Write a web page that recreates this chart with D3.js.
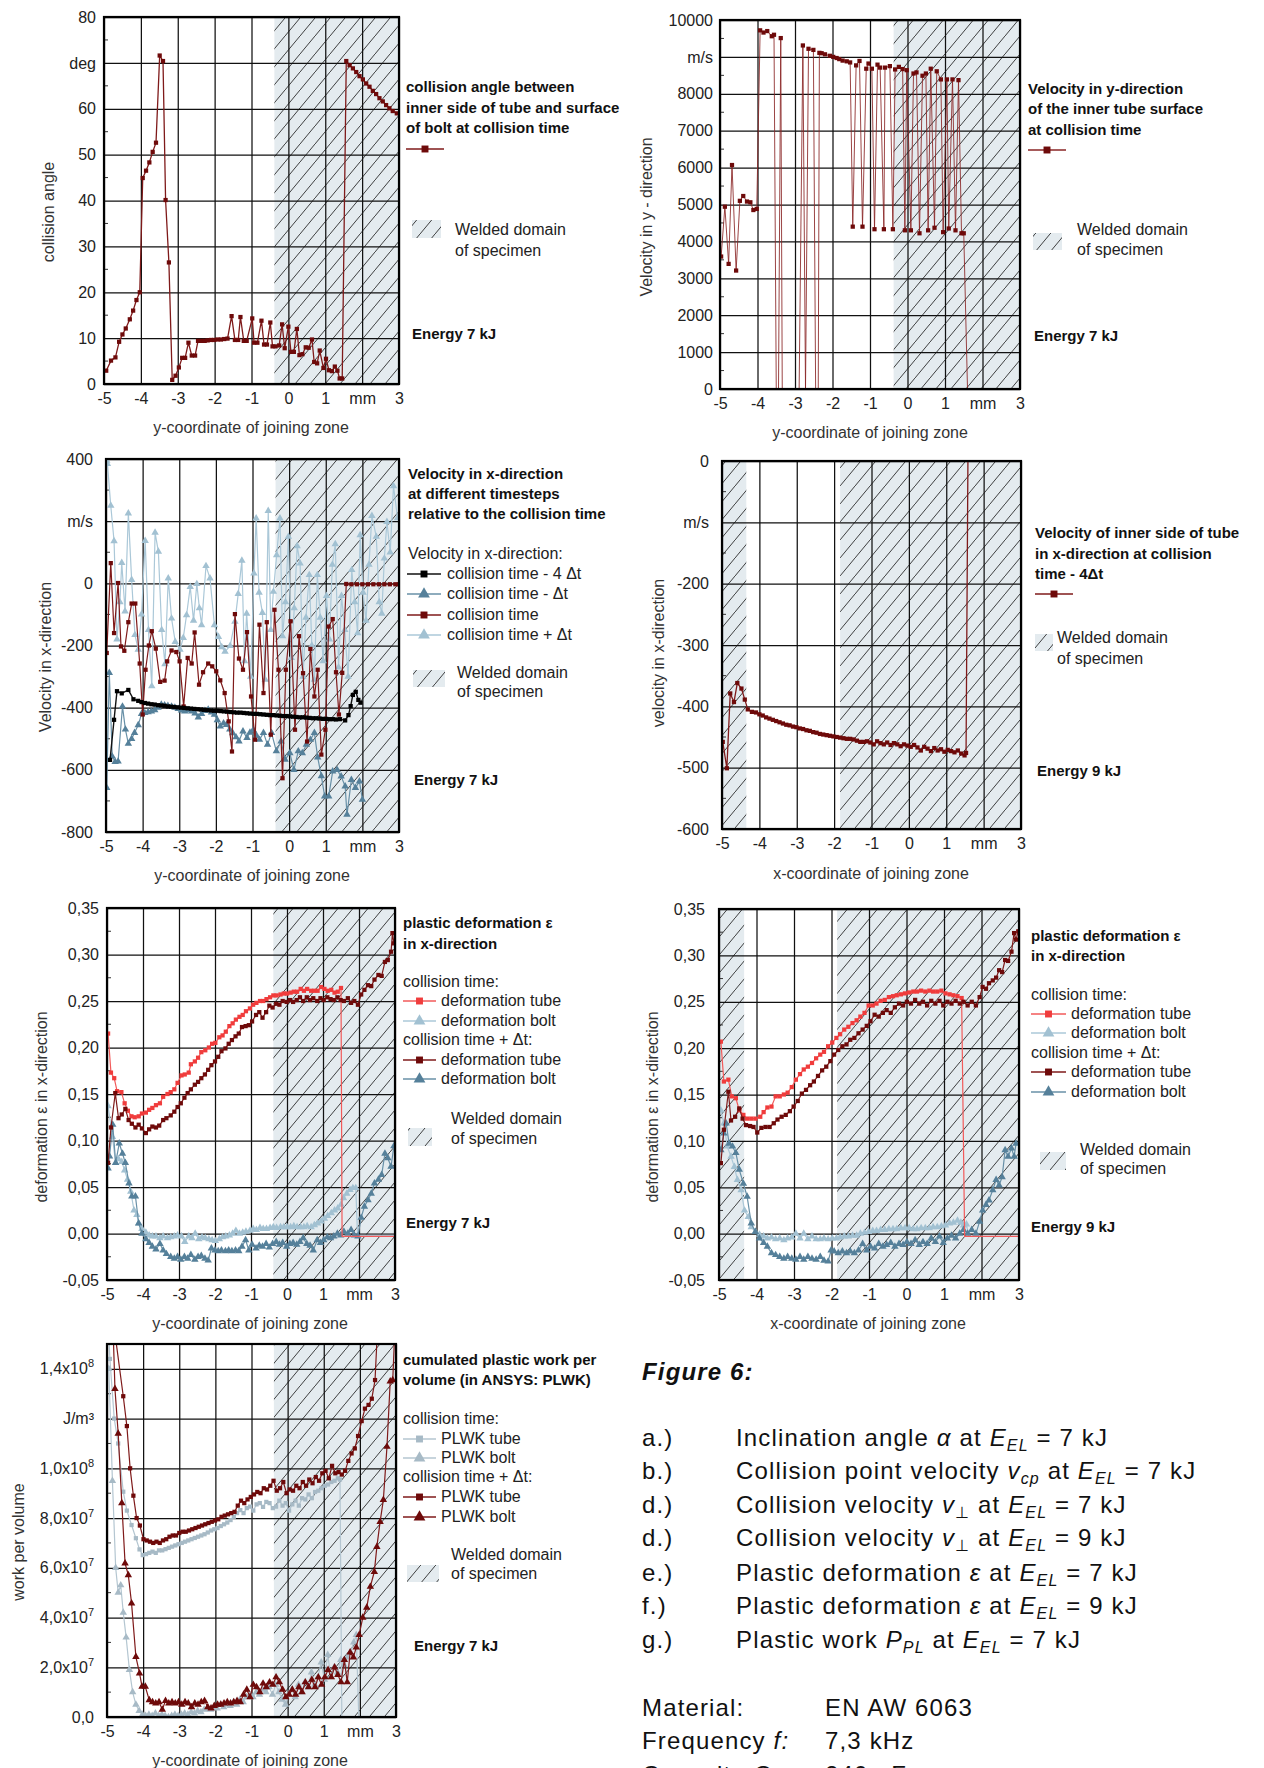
<!DOCTYPE html>
<html><head><meta charset="utf-8">
<script src="https://cdn.jsdelivr.net/npm/d3@7"></script>
<style>body{margin:0;background:#fff}</style>
</head><body>
<script>
// ---------------- DATA ----------------
const xTickValues = [-5,-4,-3,-2,-1,0,1,2,3];

// a) collision angle (deg)
const angleData = [[-4.94,2.9],[-4.81,5.1],[-4.69,5.8],[-4.59,9.2],[-4.50,10.8],[-4.41,12.1],[-4.30,14.1],[-4.21,16.0],[-4.12,18.3],[-4.03,20.0],[-3.95,44.9],[-3.86,46.5],[-3.77,48.3],[-3.68,50.6],[-3.59,52.6],[-3.49,71.6],[-3.40,70.4],[-3.33,40.1],[-3.24,26.5],[-3.15,0.9],[-3.06,1.8],[-2.97,3.6],[-2.88,5.7],[-2.80,5.7],[-2.71,9.0],[-2.62,6.2],[-2.53,6.2],[-2.45,9.4],[-2.36,9.4],[-2.27,9.4],[-2.19,9.5],[-2.10,9.6],[-2.01,9.6],[-1.92,9.7],[-1.83,9.7],[-1.74,9.8],[-1.65,9.9],[-1.54,14.8],[-1.45,9.6],[-1.36,9.6],[-1.30,14.6],[-1.21,9.4],[-1.13,9.4],[-0.98,14.3],[-0.93,9.0],[-0.84,9.0],[-0.73,13.8],[-0.66,8.6],[-0.58,8.6],[-0.49,13.4],[-0.43,8.2],[-0.35,8.2],[-0.25,8.4],[-0.17,13.0],[-0.10,7.8],[0.00,12.5],[0.07,7.0],[0.15,7.0],[0.23,12.0],[0.30,6.3],[0.38,6.5],[0.47,8.0],[0.55,7.9],[0.64,9.7],[0.70,4.8],[0.78,4.5],[0.85,7.3],[0.95,3.5],[1.02,5.5],[1.10,3.0],[1.18,2.8],[1.26,3.8],[1.33,2.9],[1.39,1.2],[1.46,1.2],[1.57,70.4],[1.66,69.5],[1.75,68.8],[1.84,68.0],[1.93,67.1],[2.02,66.4],[2.11,65.5],[2.20,64.8],[2.29,63.9],[2.38,63.2],[2.47,62.3],[2.56,61.6],[2.65,60.8],[2.74,60.1],[2.83,59.5],[2.94,59.0]];

// b) velocity in y-direction (m/s)
const vyData = [[-4.97,3590],[-4.87,4940],[-4.77,3390],[-4.68,6070],[-4.57,3210],[-4.47,5100],[-4.38,5230],[-4.28,5080],[-4.19,5060],[-4.11,4850],[-4.02,4880],[-3.93,9720],[-3.84,9660],[-3.74,9700],[-3.62,9560],[-3.56,9600],[-3.50,0],[-3.44,0],[-3.38,9510],[-3.34,0],[-2.89,0],[-2.79,9310],[-2.72,0],[-2.64,9220],[-2.51,9190],[-2.45,0],[-2.38,0],[-2.35,9110],[-2.29,9100],[-2.20,9070],[-2.07,9030],[-1.98,9000],[-1.89,8970],[-1.82,8940],[-1.73,8900],[-1.62,8880],[-1.53,8850],[-1.46,4400],[-1.37,8770],[-1.28,8890],[-1.20,4400],[-1.10,8680],[-1.04,8820],[-0.95,8680],[-0.88,4330],[-0.80,8790],[-0.73,8710],[-0.63,4330],[-0.60,8710],[-0.47,8750],[-0.39,4330],[-0.33,8660],[-0.23,8730],[-0.13,8670],[-0.07,4300],[-0.02,8640],[0.09,4300],[0.16,8550],[0.24,8580],[0.32,4220],[0.40,8490],[0.49,8550],[0.55,4300],[0.62,8680],[0.72,4370],[0.78,8610],[0.89,8390],[0.95,4250],[1.05,8390],[1.10,4350],[1.20,8390],[1.28,4300],[1.36,8370],[1.44,4220],[1.50,4220],[1.60,0],[3.00,0]];

// c) velocity in x-direction, 7 kJ (m/s)
const vxMinus4dt = [[-4.89,-568],[-4.78,-439],[-4.70,-347],[-4.57,-354],[-4.39,-343],[-4.25,-373],[-4.12,-378],[-4.03,-382],[-3.94,-385],[-3.85,-387],[-3.76,-389],[-3.67,-390],[-3.58,-392],[-3.49,-393],[-3.40,-394],[-3.31,-396],[-3.22,-397],[-3.13,-398],[-3.04,-399],[-2.95,-400],[-2.86,-401],[-2.77,-402],[-2.68,-403],[-2.59,-404],[-2.50,-405],[-2.41,-406],[-2.32,-407],[-2.23,-408],[-2.14,-409],[-2.05,-410],[-1.96,-410],[-1.87,-411],[-1.78,-412],[-1.69,-413],[-1.60,-414],[-1.51,-415],[-1.42,-416],[-1.33,-416],[-1.24,-417],[-1.15,-418],[-1.06,-419],[-0.97,-420],[-0.88,-420],[-0.79,-421],[-0.70,-422],[-0.61,-423],[-0.52,-424],[-0.43,-424],[-0.34,-425],[-0.25,-426],[-0.16,-427],[-0.07,-427],[0.02,-428],[0.11,-429],[0.20,-430],[0.29,-431],[0.38,-431],[0.47,-432],[0.56,-433],[0.65,-434],[0.74,-434],[0.83,-435],[0.92,-436],[1.01,-436],[1.10,-437],[1.19,-437],[1.28,-438],[1.39,-437],[1.53,-441],[1.62,-424],[1.68,-395],[1.74,-359],[1.82,-349],[1.89,-375],[1.95,-384]];
const vxMinusDt = [[-4.98,-658],[-4.91,-288],[-4.83,-557],[-4.75,-574],[-4.67,-573],[-4.55,-396],[-4.47,-470],[-4.39,-516],[-4.30,-500],[-4.22,-481],[-4.12,-456],[-4.03,-420],[-3.94,-417],[-3.85,-414],[-3.76,-412],[-3.67,-408],[-3.58,-400],[-3.49,-390],[-3.40,-392],[-3.31,-394],[-3.21,-396],[-3.12,-400],[-3.03,-404],[-2.94,-409],[-2.85,-412],[-2.76,-408],[-2.66,-412],[-2.57,-418],[-2.48,-431],[-2.39,-420],[-2.30,-410],[-2.21,-406],[-2.12,-415],[-2.04,-422],[-1.96,-440],[-1.88,-460],[-1.79,-450],[-1.71,-455],[-1.62,-470],[-1.54,-482],[-1.45,-495],[-1.37,-508],[-1.26,-476],[-1.15,-497],[-1.07,-480],[-0.98,-471],[-0.89,-490],[-0.81,-503],[-0.70,-481],[-0.59,-519],[-0.48,-481],[-0.35,-540],[-0.22,-508],[-0.11,-567],[0.02,-546],[0.13,-600],[0.25,-540],[0.36,-546],[0.47,-519],[0.58,-503],[0.69,-481],[0.78,-560],[0.88,-620],[0.97,-685],[1.08,-685],[1.19,-605],[1.31,-600],[1.42,-621],[1.53,-653],[1.58,-744],[1.70,-632],[1.81,-658],[1.92,-637],[2.00,-696]];
const vxColl = [[-4.98,-224],[-4.87,65],[-4.78,-160],[-4.67,1],[-4.59,-203],[-4.50,-217],[-4.39,-125],[-4.30,-65],[-4.20,-65],[-4.08,-258],[-4.00,-422],[-3.92,-278],[-3.83,-200],[-3.75,-154],[-3.64,-210],[-3.52,-317],[-3.40,-313],[-3.33,-251],[-3.21,-216],[-3.08,-221],[-2.99,-251],[-2.88,-396],[-2.77,-240],[-2.66,-258],[-2.58,-158],[-2.46,-326],[-2.35,-286],[-2.21,-258],[-2.10,-267],[-1.99,-283],[-1.88,-312],[-1.76,-353],[-1.65,-444],[-1.56,-541],[-1.48,-99],[-1.37,-242],[-1.26,-278],[-1.15,-157],[-1.04,-364],[-0.93,-503],[-0.81,-133],[-0.70,-353],[-0.61,-125],[-0.50,-487],[-0.40,-85],[-0.29,-278],[-0.18,-627],[-0.09,-278],[0.04,-122],[0.16,-471],[0.27,-170],[0.38,-289],[0.49,-509],[0.58,-211],[0.69,-364],[0.78,-278],[0.88,-551],[0.99,-471],[1.08,-139],[1.19,-115],[1.28,-286],[1.36,-422],[1.45,-288],[1.56,-2],[1.70,-3],[1.85,-3],[2.00,-3],[2.15,-3],[2.30,-3],[2.45,-3],[2.60,-3],[2.75,-3],[2.90,-3],[3.00,-3]];
const vxPlusDt = [[-4.98,395],[-4.96,384],[-4.87,250],[-4.78,136],[-4.70,-180],[-4.62,-60],[-4.57,66],[-4.48,-90],[-4.39,225],[-4.30,11],[-4.21,-166],[-4.12,-213],[-4.03,-100],[-3.93,137],[-3.84,-150],[-3.75,-331],[-3.66,163],[-3.57,102],[-3.48,-150],[-3.39,-260],[-3.30,16],[-3.21,-113],[-3.11,-188],[-2.98,-213],[-2.89,-175],[-2.80,-102],[-2.70,-11],[-2.61,-120],[-2.52,-2],[-2.45,-80],[-2.39,-134],[-2.27,56],[-2.16,16],[-2.04,-134],[-1.93,-172],[-1.84,-205],[-1.75,-220],[-1.61,-201],[-1.48,-123],[-1.39,-34],[-1.29,73],[-1.22,-250],[-1.16,-97],[-1.05,-300],[-0.96,32],[-0.90,209],[-0.82,-30],[-0.73,-95],[-0.65,-310],[-0.57,233],[-0.50,-150],[-0.43,-27],[-0.34,91],[-0.25,209],[-0.18,-170],[-0.10,-60],[-0.02,150],[0.06,-240],[0.14,-80],[0.22,120],[0.30,64],[0.38,-300],[0.46,-110],[0.55,27],[0.62,-200],[0.69,-310],[0.77,27],[0.85,-110],[0.93,-250],[1.02,-40],[1.10,-180],[1.18,60],[1.26,126],[1.35,-270],[1.43,-40],[1.52,-150],[1.61,-300],[1.71,43],[1.79,-60],[1.87,-160],[1.94,155],[2.02,-30],[2.10,-120],[2.18,60],[2.26,217],[2.38,150],[2.46,-60],[2.53,-97],[2.60,80],[2.67,198],[2.76,100],[2.85,313],[2.96,210]];

// d) velocity in x-direction, 9 kJ (m/s)
const vx9Data = [[-4.98,-458],[-4.87,-501],[-4.78,-379],[-4.68,-393],[-4.59,-362],[-4.48,-371],[-4.39,-389],[-4.31,-405],[-4.20,-409],[-4.09,-410],[-4.00,-413],[-3.91,-415],[-3.82,-418],[-3.73,-420],[-3.64,-422],[-3.55,-424],[-3.46,-426],[-3.37,-428],[-3.28,-430],[-3.19,-431],[-3.10,-433],[-3.01,-434],[-2.92,-436],[-2.83,-437],[-2.74,-439],[-2.65,-440],[-2.56,-442],[-2.47,-443],[-2.38,-445],[-2.29,-446],[-2.20,-447],[-2.11,-448],[-2.02,-449],[-1.93,-450],[-1.84,-451],[-1.75,-452],[-1.66,-453],[-1.57,-453],[-1.48,-454],[-1.39,-456],[-1.30,-458],[-1.21,-458],[-1.12,-457],[-1.03,-459],[-0.94,-462],[-0.85,-457],[-0.76,-460],[-0.67,-462],[-0.58,-459],[-0.49,-463],[-0.40,-460],[-0.31,-462],[-0.22,-465],[-0.13,-462],[-0.04,-464],[0.05,-466],[0.14,-463],[0.23,-467],[0.32,-472],[0.41,-466],[0.50,-469],[0.59,-473],[0.68,-468],[0.77,-472],[0.86,-470],[0.95,-474],[1.04,-471],[1.13,-473],[1.22,-475],[1.31,-472],[1.40,-477],[1.49,-480],[1.53,-476],[1.58,0],[3.00,0]];

// e) plastic deformation, 7 kJ
const e7TubeCT = [[-4.97,0.215],[-4.89,0.173],[-4.80,0.167],[-4.72,0.153],[-4.60,0.152],[-4.51,0.140],[-4.42,0.132],[-4.32,0.126],[-4.23,0.125],[-4.12,0.126],[-4.03,0.129],[-3.92,0.130],[-3.83,0.133],[-3.74,0.135],[-3.64,0.138],[-3.53,0.140],[-3.44,0.147],[-3.32,0.150],[-3.23,0.152],[-3.13,0.155],[-3.04,0.162],[-2.93,0.170],[-2.84,0.171],[-2.73,0.173],[-2.67,0.182],[-2.56,0.185],[-2.47,0.189],[-2.38,0.195],[-2.27,0.197],[-2.17,0.200],[-2.08,0.204],[-1.99,0.205],[-1.88,0.211],[-1.79,0.213],[-1.70,0.217],[-1.60,0.223],[-1.51,0.226],[-1.42,0.230],[-1.32,0.233],[-1.23,0.235],[-1.14,0.239],[-1.03,0.242],[-0.94,0.246],[-0.85,0.248],[-0.75,0.250],[-0.66,0.250],[-0.57,0.252],[-0.47,0.254],[-0.38,0.256],[-0.29,0.256],[-0.18,0.257],[-0.09,0.258],[0.00,0.258],[0.10,0.259],[0.19,0.260],[0.28,0.260],[0.38,0.263],[0.47,0.261],[0.56,0.263],[0.67,0.261],[0.76,0.261],[0.85,0.261],[0.95,0.265],[1.04,0.263],[1.13,0.261],[1.23,0.262],[1.32,0.259],[1.41,0.260],[1.50,0.264],[1.53,-0.003],[3.00,-0.003]];
const e7BoltCT = [[-4.97,0.137],[-4.85,0.104],[-4.76,0.076],[-4.68,0.080],[-4.59,0.077],[-4.51,0.068],[-4.43,0.058],[-4.34,0.045],[-4.25,0.025],[-4.17,0.020],[-4.12,0.011],[-4.03,0.005],[-3.92,0.001],[-3.83,-0.002],[-3.74,-0.003],[-3.64,-0.003],[-3.53,-0.005],[-3.44,-0.003],[-3.32,-0.005],[-3.23,-0.004],[-3.13,-0.003],[-3.04,-0.002],[-2.93,-0.003],[-2.84,-0.009],[-2.73,-0.003],[-2.64,-0.005],[-2.55,0.000],[-2.45,-0.006],[-2.36,-0.004],[-2.27,-0.005],[-2.17,-0.006],[-2.08,-0.007],[-1.99,-0.008],[-1.88,-0.006],[-1.79,-0.004],[-1.70,-0.003],[-1.60,-0.002],[-1.51,0.000],[-1.42,0.003],[-1.32,0.000],[-1.23,0.001],[-1.14,0.002],[-1.03,0.003],[-0.94,0.005],[-0.85,0.004],[-0.75,0.006],[-0.66,0.005],[-0.57,0.005],[-0.47,0.006],[-0.38,0.007],[-0.29,0.006],[-0.18,0.007],[-0.09,0.007],[0.00,0.007],[0.10,0.007],[0.19,0.008],[0.28,0.007],[0.38,0.007],[0.47,0.007],[0.56,0.008],[0.67,0.007],[0.76,0.009],[0.85,0.011],[0.95,0.013],[1.04,0.016],[1.13,0.019],[1.23,0.022],[1.32,0.025],[1.41,0.027],[1.50,0.031],[1.57,0.038],[1.66,0.043],[1.75,0.047],[1.83,0.049],[1.91,0.049],[1.96,-0.002],[3.00,-0.002]];
const e7TubeDt = [[-4.97,0.076],[-4.89,0.114],[-4.77,0.151],[-4.68,0.124],[-4.59,0.128],[-4.49,0.134],[-4.40,0.122],[-4.31,0.118],[-4.21,0.114],[-4.12,0.117],[-4.03,0.113],[-3.92,0.108],[-3.83,0.112],[-3.74,0.115],[-3.64,0.114],[-3.55,0.116],[-3.44,0.122],[-3.35,0.124],[-3.23,0.127],[-3.13,0.131],[-3.04,0.136],[-2.95,0.140],[-2.85,0.146],[-2.76,0.151],[-2.67,0.155],[-2.56,0.160],[-2.47,0.163],[-2.38,0.167],[-2.28,0.171],[-2.19,0.176],[-2.10,0.181],[-2.00,0.185],[-1.91,0.190],[-1.82,0.196],[-1.71,0.199],[-1.62,0.204],[-1.53,0.208],[-1.43,0.212],[-1.34,0.215],[-1.25,0.222],[-1.15,0.223],[-1.06,0.224],[-0.97,0.228],[-0.86,0.235],[-0.77,0.238],[-0.68,0.232],[-0.58,0.238],[-0.49,0.245],[-0.40,0.243],[-0.30,0.247],[-0.21,0.246],[-0.12,0.250],[-0.01,0.249],[0.08,0.251],[0.17,0.249],[0.27,0.251],[0.36,0.254],[0.45,0.250],[0.55,0.254],[0.64,0.251],[0.73,0.253],[0.84,0.250],[0.93,0.253],[1.02,0.251],[1.12,0.254],[1.21,0.252],[1.30,0.251],[1.40,0.254],[1.49,0.251],[1.58,0.250],[1.69,0.253],[1.78,0.248],[1.87,0.250],[1.97,0.246],[2.06,0.257],[2.15,0.262],[2.25,0.267],[2.34,0.266],[2.43,0.273],[2.54,0.278],[2.63,0.277],[2.72,0.292],[2.80,0.294],[2.89,0.303],[2.93,0.323],[2.97,0.312]];
const e7BoltDt = [[-4.97,0.070],[-4.93,0.083],[-4.84,0.117],[-4.76,0.076],[-4.66,0.097],[-4.57,0.086],[-4.49,0.076],[-4.39,0.054],[-4.31,0.040],[-4.21,0.040],[-4.12,0.011],[-4.03,0.000],[-3.92,-0.006],[-3.83,-0.010],[-3.74,-0.014],[-3.64,-0.017],[-3.53,-0.011],[-3.44,-0.018],[-3.35,-0.022],[-3.23,-0.025],[-3.13,-0.027],[-3.04,-0.025],[-2.95,-0.028],[-2.85,-0.025],[-2.76,-0.027],[-2.67,-0.023],[-2.56,-0.028],[-2.47,-0.025],[-2.38,-0.024],[-2.28,-0.027],[-2.19,-0.029],[-2.10,-0.016],[-2.00,-0.018],[-1.91,-0.019],[-1.82,-0.018],[-1.71,-0.019],[-1.62,-0.018],[-1.53,-0.019],[-1.43,-0.018],[-1.34,-0.019],[-1.25,-0.014],[-1.15,-0.007],[-1.06,-0.018],[-0.97,-0.012],[-0.86,-0.016],[-0.77,-0.013],[-0.68,-0.014],[-0.58,-0.011],[-0.49,-0.015],[-0.40,-0.011],[-0.30,-0.009],[-0.21,-0.012],[-0.12,-0.010],[-0.01,-0.014],[0.08,-0.011],[0.17,-0.010],[0.27,-0.012],[0.36,-0.009],[0.45,-0.005],[0.55,-0.011],[0.64,-0.013],[0.73,-0.018],[0.84,-0.007],[0.93,-0.010],[1.02,-0.007],[1.12,-0.004],[1.21,-0.005],[1.30,-0.003],[1.40,0.000],[1.49,-0.002],[1.58,0.002],[1.69,0.000],[1.78,0.004],[1.87,-0.002],[1.97,-0.003],[2.06,0.017],[2.15,0.029],[2.25,0.036],[2.34,0.043],[2.43,0.054],[2.54,0.058],[2.63,0.063],[2.72,0.086],[2.80,0.081],[2.89,0.072],[2.97,0.094]];

// f) plastic deformation, 9 kJ
const e9TubeCT = [[-4.95,0.207],[-4.87,0.164],[-4.75,0.166],[-4.66,0.148],[-4.55,0.146],[-4.46,0.133],[-4.35,0.128],[-4.25,0.124],[-4.14,0.124],[-4.03,0.124],[-3.90,0.126],[-3.81,0.131],[-3.71,0.136],[-3.60,0.137],[-3.49,0.148],[-3.38,0.148],[-3.27,0.150],[-3.17,0.152],[-3.06,0.158],[-2.95,0.166],[-2.84,0.172],[-2.74,0.177],[-2.63,0.180],[-2.52,0.184],[-2.41,0.189],[-2.30,0.193],[-2.20,0.196],[-2.09,0.202],[-1.98,0.206],[-1.87,0.211],[-1.77,0.215],[-1.66,0.220],[-1.55,0.223],[-1.44,0.227],[-1.33,0.230],[-1.23,0.234],[-1.12,0.238],[-1.01,0.246],[-0.90,0.246],[-0.80,0.248],[-0.69,0.251],[-0.58,0.252],[-0.47,0.255],[-0.36,0.256],[-0.26,0.257],[-0.15,0.258],[-0.04,0.259],[0.07,0.260],[0.18,0.261],[0.28,0.261],[0.39,0.262],[0.50,0.261],[0.61,0.262],[0.71,0.261],[0.82,0.261],[0.93,0.262],[1.04,0.259],[1.15,0.258],[1.25,0.257],[1.36,0.256],[1.47,0.254],[1.55,-0.003],[3.00,-0.003]];
const e9BoltCT = [[-4.95,0.133],[-4.87,0.119],[-4.78,0.094],[-4.68,0.083],[-4.59,0.072],[-4.51,0.058],[-4.41,0.047],[-4.32,0.025],[-4.22,0.018],[-4.14,0.007],[-4.03,0.002],[-3.92,-0.001],[-3.81,-0.003],[-3.71,-0.005],[-3.60,-0.004],[-3.49,-0.006],[-3.38,-0.005],[-3.27,-0.007],[-3.17,-0.005],[-3.06,-0.004],[-2.95,0.000],[-2.84,-0.005],[-2.74,0.000],[-2.63,-0.006],[-2.52,-0.003],[-2.41,-0.006],[-2.30,-0.006],[-2.20,-0.005],[-2.09,-0.006],[-1.98,-0.005],[-1.87,-0.005],[-1.77,-0.004],[-1.66,-0.003],[-1.55,-0.003],[-1.44,-0.002],[-1.33,-0.002],[-1.23,0.000],[-1.12,0.001],[-1.01,0.002],[-0.90,0.003],[-0.80,0.003],[-0.69,0.004],[-0.58,0.004],[-0.47,0.005],[-0.36,0.005],[-0.26,0.005],[-0.15,0.006],[-0.04,0.006],[0.07,0.006],[0.18,0.005],[0.28,0.005],[0.39,0.006],[0.50,0.006],[0.61,0.006],[0.71,0.007],[0.82,0.007],[0.93,0.008],[1.04,0.009],[1.15,0.011],[1.25,0.012],[1.36,0.014],[1.45,0.012],[1.52,0.009],[1.60,0.010],[1.66,-0.003],[3.00,-0.003]];
const e9TubeDt = [[-4.95,0.076],[-4.87,0.112],[-4.75,0.153],[-4.68,0.122],[-4.57,0.126],[-4.46,0.135],[-4.37,0.124],[-4.28,0.117],[-4.17,0.116],[-4.08,0.115],[-3.98,0.109],[-3.87,0.114],[-3.76,0.115],[-3.65,0.115],[-3.54,0.119],[-3.44,0.123],[-3.33,0.126],[-3.22,0.128],[-3.11,0.132],[-3.01,0.137],[-2.90,0.143],[-2.79,0.151],[-2.68,0.155],[-2.57,0.160],[-2.47,0.164],[-2.36,0.170],[-2.25,0.176],[-2.14,0.180],[-2.03,0.186],[-1.93,0.193],[-1.82,0.198],[-1.71,0.202],[-1.60,0.204],[-1.50,0.209],[-1.39,0.211],[-1.28,0.216],[-1.17,0.220],[-1.06,0.224],[-0.96,0.229],[-0.85,0.236],[-0.74,0.234],[-0.63,0.238],[-0.53,0.241],[-0.42,0.238],[-0.31,0.244],[-0.20,0.248],[-0.09,0.246],[0.01,0.250],[0.12,0.248],[0.23,0.252],[0.34,0.248],[0.44,0.250],[0.55,0.246],[0.66,0.251],[0.77,0.248],[0.88,0.251],[0.98,0.246],[1.09,0.250],[1.20,0.248],[1.31,0.251],[1.42,0.248],[1.52,0.250],[1.63,0.246],[1.74,0.250],[1.85,0.246],[1.95,0.255],[2.03,0.266],[2.12,0.264],[2.20,0.270],[2.30,0.273],[2.39,0.276],[2.47,0.284],[2.55,0.282],[2.63,0.295],[2.71,0.294],[2.80,0.304],[2.87,0.324],[2.92,0.317],[2.98,0.326]];
const e9BoltDt = [[-4.95,0.090],[-4.87,0.108],[-4.81,0.119],[-4.73,0.097],[-4.64,0.094],[-4.55,0.087],[-4.46,0.069],[-4.35,0.054],[-4.25,0.040],[-4.14,0.011],[-4.03,0.002],[-3.92,-0.005],[-3.81,-0.010],[-3.71,-0.014],[-3.60,-0.021],[-3.49,-0.023],[-3.38,-0.025],[-3.27,-0.027],[-3.17,-0.025],[-3.06,-0.027],[-2.95,-0.028],[-2.84,-0.025],[-2.74,-0.028],[-2.63,-0.025],[-2.52,-0.027],[-2.41,-0.028],[-2.30,-0.025],[-2.20,-0.029],[-2.09,-0.030],[-2.01,-0.018],[-1.93,-0.019],[-1.82,-0.021],[-1.71,-0.019],[-1.60,-0.021],[-1.50,-0.019],[-1.39,-0.021],[-1.28,-0.018],[-1.17,-0.011],[-1.06,-0.018],[-0.96,-0.014],[-0.85,-0.016],[-0.74,-0.011],[-0.63,-0.014],[-0.53,-0.012],[-0.42,-0.010],[-0.31,-0.014],[-0.20,-0.011],[-0.09,-0.012],[0.01,-0.009],[0.12,-0.011],[0.23,-0.007],[0.34,-0.012],[0.44,-0.009],[0.55,-0.011],[0.66,-0.005],[0.77,-0.009],[0.88,-0.003],[0.98,-0.010],[1.09,-0.005],[1.20,-0.002],[1.31,-0.005],[1.42,0.000],[1.52,0.004],[1.63,0.000],[1.74,0.004],[1.85,0.000],[1.95,0.013],[2.03,0.025],[2.12,0.031],[2.20,0.036],[2.30,0.047],[2.39,0.058],[2.47,0.052],[2.55,0.061],[2.63,0.090],[2.71,0.083],[2.80,0.092],[2.87,0.083],[2.92,0.097]];

// g) plastic work per volume (units of 10^7 J/m³)
const wTubeCT = [[-4.97,16.0],[-4.92,14.4],[-4.80,12.0],[-4.69,11.0],[-4.55,9.06],[-4.45,8.3],[-4.32,7.72],[-4.20,7.19],[-4.10,6.74],[-4.01,6.51],[-3.92,6.55],[-3.83,6.6],[-3.74,6.65],[-3.65,6.6],[-3.56,6.7],[-3.47,6.7],[-3.38,6.75],[-3.29,6.8],[-3.20,6.85],[-3.11,6.9],[-3.02,6.95],[-2.93,7.0],[-2.84,7.05],[-2.75,7.1],[-2.66,7.15],[-2.57,7.2],[-2.48,7.25],[-2.39,7.3],[-2.30,7.35],[-2.21,7.42],[-2.12,7.5],[-2.03,7.55],[-1.94,7.6],[-1.85,7.68],[-1.76,7.75],[-1.67,7.82],[-1.58,7.92],[-1.49,8.05],[-1.40,8.2],[-1.31,8.32],[-1.22,8.2],[-1.13,8.4],[-1.04,8.46],[-0.95,8.3],[-0.86,8.55],[-0.77,8.6],[-0.68,8.45],[-0.59,8.65],[-0.50,8.6],[-0.41,8.4],[-0.32,8.46],[-0.23,8.7],[-0.14,8.5],[-0.05,8.6],[0.04,8.3],[0.13,8.55],[0.22,8.7],[0.31,8.5],[0.40,8.8],[0.49,8.75],[0.58,8.95],[0.67,8.8],[0.76,9.05],[0.85,9.1],[0.94,9.2],[1.03,9.3],[1.12,9.35],[1.21,9.45],[1.30,9.5],[1.39,9.6],[1.45,9.55],[1.50,0.0],[3.00,0.0]];
const wBoltCT = [[-4.95,14.0],[-4.85,9.5],[-4.76,6.0],[-4.69,5.0],[-4.62,5.3],[-4.55,4.2],[-4.47,3.2],[-4.38,1.9],[-4.29,1.0],[-4.20,0.5],[-4.11,0.25],[-4.02,0.1],[-3.93,0.05],[-3.84,0.1],[-3.75,0.05],[-3.66,0.15],[-3.57,0.05],[-3.48,0.1],[-3.39,0.05],[-3.30,0.0],[-3.21,0.05],[-3.12,0.1],[-3.03,0.05],[-2.94,0.1],[-2.85,0.15],[-2.76,0.1],[-2.67,0.2],[-2.58,0.15],[-2.49,0.25],[-2.40,0.2],[-2.31,0.3],[-2.22,0.35],[-2.13,0.3],[-2.04,0.4],[-1.95,0.35],[-1.86,0.5],[-1.77,0.4],[-1.68,0.5],[-1.59,0.45],[-1.50,0.6],[-1.41,0.5],[-1.32,0.7],[-1.23,0.6],[-1.14,0.8],[-1.05,0.9],[-0.96,0.8],[-0.87,1.0],[-0.78,0.9],[-0.69,1.1],[-0.60,1.0],[-0.51,1.2],[-0.42,0.9],[-0.33,1.3],[-0.24,1.0],[-0.15,0.7],[-0.06,0.5],[0.03,0.9],[0.12,1.1],[0.21,0.8],[0.30,1.3],[0.39,1.0],[0.48,1.4],[0.57,1.2],[0.66,1.8],[0.75,1.3],[0.84,1.6],[0.93,2.2],[1.02,1.5],[1.11,2.5],[1.20,1.6],[1.29,2.0],[1.38,1.8],[1.47,2.3],[1.56,2.1],[1.65,2.4],[1.74,2.6],[1.83,3.0],[1.90,3.3],[1.97,0.0],[3.00,0.0]];
const wTubeDt = [[-4.85,16.2],[-4.55,12.9],[-4.45,11.7],[-4.36,10.0],[-4.27,8.9],[-4.18,8.0],[-4.09,7.7],[-3.99,7.15],[-3.90,7.1],[-3.81,7.05],[-3.72,7.0],[-3.63,7.05],[-3.54,7.0],[-3.45,7.1],[-3.36,7.15],[-3.27,7.25],[-3.18,7.3],[-3.09,7.3],[-3.00,7.4],[-2.91,7.45],[-2.82,7.45],[-2.73,7.5],[-2.64,7.55],[-2.55,7.6],[-2.46,7.65],[-2.37,7.7],[-2.28,7.75],[-2.19,7.8],[-2.10,7.85],[-2.01,7.9],[-1.92,7.95],[-1.83,8.05],[-1.74,8.1],[-1.65,8.15],[-1.56,8.2],[-1.47,8.25],[-1.38,8.5],[-1.29,8.7],[-1.20,8.6],[-1.11,8.75],[-1.02,8.85],[-0.93,8.95],[-0.84,9.05],[-0.75,9.0],[-0.66,9.2],[-0.57,9.15],[-0.48,9.3],[-0.39,9.5],[-0.30,9.1],[-0.21,9.2],[-0.12,9.45],[-0.03,9.0],[0.06,9.15],[0.15,9.1],[0.24,9.3],[0.33,9.2],[0.42,9.45],[0.51,9.3],[0.60,9.55],[0.69,9.4],[0.78,9.65],[0.87,9.5],[0.96,9.8],[1.05,9.9],[1.14,9.6],[1.23,10.1],[1.32,9.8],[1.41,9.85],[1.50,9.75],[1.59,9.9],[1.68,10.3],[1.77,10.6],[1.86,10.8],[1.95,11.3],[2.05,11.9],[2.14,12.4],[2.24,12.55],[2.33,12.8],[2.42,13.55],[2.50,16.0]];
const wBoltDt = [[-4.84,16.0],[-4.78,13.2],[-4.69,11.4],[-4.59,8.6],[-4.50,6.18],[-4.41,5.71],[-4.32,4.57],[-4.20,2.42],[-4.10,1.76],[-4.03,1.22],[-3.94,1.22],[-3.83,0.68],[-3.74,0.6],[-3.65,0.55],[-3.56,0.6],[-3.47,0.3],[-3.38,0.65],[-3.29,0.55],[-3.20,0.6],[-3.11,0.55],[-3.02,0.6],[-2.93,0.5],[-2.84,0.6],[-2.75,0.55],[-2.66,0.4],[-2.57,0.55],[-2.48,0.5],[-2.39,0.6],[-2.30,0.65],[-2.21,0.4],[-2.12,0.35],[-2.03,0.45],[-1.94,0.5],[-1.85,0.5],[-1.76,0.55],[-1.67,0.6],[-1.58,0.55],[-1.49,0.6],[-1.40,0.65],[-1.31,0.6],[-1.22,0.9],[-1.13,1.1],[-1.04,0.8],[-0.95,1.3],[-0.86,1.2],[-0.77,1.0],[-0.68,1.35],[-0.59,1.2],[-0.50,1.4],[-0.41,1.3],[-0.32,1.6],[-0.23,1.4],[-0.14,1.1],[-0.05,0.8],[0.04,0.9],[0.13,1.1],[0.22,0.9],[0.31,1.2],[0.40,1.0],[0.49,1.4],[0.58,1.2],[0.67,1.5],[0.76,1.2],[0.85,1.6],[0.94,1.3],[1.03,1.6],[1.12,1.9],[1.21,1.6],[1.30,2.0],[1.39,1.7],[1.48,1.4],[1.57,2.3],[1.65,1.4],[1.73,2.6],[1.82,2.4],[1.90,2.8],[1.98,3.3],[2.08,4.0],[2.19,4.4],[2.29,5.24],[2.40,5.84],[2.47,6.84],[2.56,7.85],[2.65,8.73],[2.75,10.87],[2.84,13.5],[2.91,13.55],[2.98,16.0]];

// tick values
const angleTicks = [0,10,20,30,40,50,60,70,80];
const vyTicks = [0,1000,2000,3000,4000,5000,6000,7000,8000,9000,10000];
const vxTicks = [-800,-600,-400,-200,0,200,400];
const vx9Ticks = [-600,-500,-400,-300,-200,-100,0];
const defTicks = [-0.05,0,0.05,0.10,0.15,0.20,0.25,0.30,0.35];
const workTicks = [0,2,4,6,8,10,12,14];

// caption texts
const captionItems = [
  ["a.)", [["Inclination angle "],["α","i"],[" at "],["E","i"],["EL","is"],[" = 7 kJ"]]],
  ["b.)", [["Collision point velocity "],["v","i"],["cp","is"],[" at "],["E","i"],["EL","is"],[" = 7 kJ"]]],
  ["d.)", [["Collision velocity "],["v","i"],["⊥","s"],[" at "],["E","i"],["EL","is"],[" = 7 kJ"]]],
  ["d.)", [["Collision velocity "],["v","i"],["⊥","s"],[" at "],["E","i"],["EL","is"],[" = 9 kJ"]]],
  ["e.)", [["Plastic deformation "],["ε","i"],[" at "],["E","i"],["EL","is"],[" = 7 kJ"]]],
  ["f.)", [["Plastic deformation "],["ε","i"],[" at "],["E","i"],["EL","is"],[" = 9 kJ"]]],
  ["g.)", [["Plastic work "],["P","i"],["PL","is"],[" at "],["E","i"],["EL","is"],[" = 7 kJ"]]]
];
const materialRows = [["Material:","EN AW 6063"],["Frequency ","7,3 kHz","f:"],["Capacity ","240 µF","C:"]];

// ---------------- DRAWING ----------------
const FONT = "'Liberation Sans', Arial, Helvetica, sans-serif";
const MAROON = "#6e0a0a", MAROON_L = "#7f1a1a";
const RED = "#f03c3c", RED_L = "#f25a5a";
const PALE = "#a2c1d2", PALE_L = "#abc8d8";
const STEEL = "#55809a", STEEL_L = "#6890a7";
const GPALE = "#a7bac6", GPALE_L = "#b4c6d1";

const svg = d3.select("body").append("svg").attr("width",1264).attr("height",1768)
  .style("font-family",FONT).style("background","#fff");
const defs = svg.append("defs");
const pat = defs.append("pattern").attr("id","hatch").attr("patternUnits","userSpaceOnUse")
  .attr("width",15).attr("height",18);
pat.append("rect").attr("width",15).attr("height",18).attr("fill","#e4ebef");
pat.append("path").attr("d","M-1,19.2 L16,-1.2").attr("stroke","#2a2a2a").attr("stroke-width",0.9);

let clipId = 0;
function drawPanel(o) {
  const g = svg.append("g");
  const x = d3.scaleLinear().domain([-5,3]).range([o.left,o.right]);
  const y = d3.scaleLinear().domain(o.yDomain).range([o.bottom,o.top]);
  const W = o.right-o.left, H = o.bottom-o.top;
  o.welded.forEach(([a,b]) => g.append("rect").attr("x",x(a)).attr("y",o.top)
    .attr("width",x(b)-x(a)).attr("height",H).attr("fill","url(#hatch)"));
  const gx = g.append("g").attr("transform",`translate(0,${o.bottom})`)
    .call(d3.axisBottom(x).tickValues(xTickValues).tickSize(-H).tickPadding(9)
      .tickFormat(d => d===2 ? "mm" : String(d)));
  gx.select(".domain").remove();
  gx.selectAll("line").attr("stroke","#111").attr("stroke-width",1.25);
  gx.selectAll("text").attr("font-size",16).attr("fill","#222").attr("font-family",FONT);
  const gy = g.append("g").attr("transform",`translate(${o.left},0)`)
    .call(d3.axisLeft(y).tickValues(o.yTicks).tickSize(-W).tickPadding(o.ypad)
      .tickFormat(o.yFormat));
  gy.select(".domain").remove();
  gy.selectAll("line").attr("stroke","#111").attr("stroke-width",1.25);
  gy.selectAll("text").attr("font-size",16).attr("fill","#222").attr("font-family",FONT);
  if (o.yPost) gy.selectAll("text").each(o.yPost);
  for (let i=0;i<o.yTicks.length-1;i++){
    const m = (o.yTicks[i]+o.yTicks[i+1])/2;
    g.append("line").attr("x1",o.left).attr("x2",o.left+4).attr("y1",y(m)).attr("y2",y(m))
      .attr("stroke","#333").attr("stroke-width",1);
  }
  const id = "clip"+(clipId++);
  defs.append("clipPath").attr("id",id).append("rect")
    .attr("x",o.left).attr("y",o.top).attr("width",W).attr("height",H);
  const sg = g.append("g").attr("clip-path",`url(#${id})`);
  o.series.forEach(s => {
    sg.append("path").datum(s.data)
      .attr("d", d3.line().x(d=>x(d[0])).y(d=>y(d[1])))
      .attr("fill","none").attr("stroke",s.lcolor).attr("stroke-width",s.lw||1.2)
      .attr("stroke-opacity",s.lop||1).attr("stroke-linejoin","round");
    const pts = s.data.filter(d => (s.markerMaxX==null || d[0] <= s.markerMaxX) && !(s.skipZero && d[1]===0));
    const sym = d3.symbol().type(s.marker==="tri" ? d3.symbolTriangle : d3.symbolSquare).size(s.msize||20);
    sg.selectAll(null).data(pts).join("path").attr("d",sym)
      .attr("transform",d=>`translate(${x(d[0])},${y(d[1])})`).attr("fill",s.mcolor);
  });
  g.append("rect").attr("x",o.left).attr("y",o.top).attr("width",W).attr("height",H)
    .attr("fill","none").attr("stroke","#000").attr("stroke-width",2.2);
  g.append("text").attr("transform",`translate(${o.ylab[0]},${o.ylab[1]}) rotate(-90)`)
    .attr("text-anchor","middle").attr("dy","0.35em").attr("font-size",16).attr("fill","#333").text(o.ylab[2]);
  g.append("text").attr("x",o.xlab[0]).attr("y",o.xlab[1]).attr("dy","0.35em")
    .attr("text-anchor","middle").attr("font-size",16).attr("fill","#333").text(o.xlab[2]);
  return {x,y};
}

function txt(x,y,s,bold,size){
  return svg.append("text").attr("x",x).attr("y",y).attr("font-size",size||(bold?15:16))
    .attr("font-weight",bold?"bold":"normal").attr("fill",bold?"#111":"#222").text(s);
}
function legendItem(x1,x2,yy,s){
  svg.append("line").attr("x1",x1).attr("x2",x2).attr("y1",yy).attr("y2",yy)
    .attr("stroke",s.lcolor).attr("stroke-width",1.6);
  const sym = d3.symbol().type(s.marker==="tri"?d3.symbolTriangle:d3.symbolSquare).size(s.marker==="tri"?60:48);
  svg.append("path").attr("d",sym).attr("transform",`translate(${(x1+x2)/2},${yy})`).attr("fill",s.mcolor);
}
function swatch(x,y,w,h){
  svg.append("rect").attr("x",x).attr("y",y).attr("width",w).attr("height",h).attr("fill","url(#hatch)");
}

// --- panel a
const sAngle = {data:angleData, lcolor:MAROON_L, mcolor:MAROON, marker:"sq", msize:18, lw:1.3};
drawPanel({left:104,right:399,top:17,bottom:384,yDomain:[0,80],yTicks:angleTicks,ypad:8,
  yFormat:d=>d===70?"deg":String(d), welded:[[-0.38,3]], series:[sAngle],
  ylab:[48,212,"collision angle"], xlab:[251,427,"y-coordinate of joining zone"]});
["collision angle between","inner side of tube and surface","of bolt at collision time"]
  .forEach((t,i)=>txt(406,[92,113,133][i],t,true));
legendItem(406,444,149,sAngle);
swatch(412,220,29,18); txt(455,235,"Welded domain"); txt(455,256,"of specimen");
txt(412,339,"Energy 7 kJ",true);

// --- panel b
const sVy = {data:vyData, lcolor:"#8a2525", lop:0.85, mcolor:MAROON, marker:"sq", msize:18, lw:1.0, skipZero:true};
drawPanel({left:720,right:1020,top:20,bottom:389,yDomain:[0,10000],yTicks:vyTicks,ypad:7,
  yFormat:d=>d===9000?"m/s":String(d), welded:[[-0.37,3]], series:[sVy],
  ylab:[646,217,"Velocity in y - direction"], xlab:[870,432,"y-coordinate of joining zone"]});
["Velocity in y-direction","of the inner tube surface","at collision time"]
  .forEach((t,i)=>txt(1028,[94,114,135][i],t,true));
legendItem(1028,1066,150,sVy);
swatch(1033,233,29,17); txt(1077,235,"Welded domain"); txt(1077,255,"of specimen");
txt(1034,341,"Energy 7 kJ",true);

// --- panel c
const sC4 = {data:vxMinus4dt, lcolor:"#111", mcolor:"#000", marker:"sq", msize:18, lw:1.4};
const sC1 = {data:vxMinusDt, lcolor:STEEL_L, mcolor:STEEL, marker:"tri", msize:24};
const sC0 = {data:vxColl, lcolor:MAROON_L, mcolor:MAROON, marker:"sq", msize:18};
const sCp = {data:vxPlusDt, lcolor:PALE_L, mcolor:PALE, marker:"tri", msize:24};
drawPanel({left:106,right:399,top:459,bottom:832,yDomain:[-800,400],yTicks:vxTicks,ypad:13,
  yFormat:d=>d===200?"m/s":String(d), welded:[[-0.37,3]], series:[sCp,sC1,sC0,sC4],
  ylab:[45,657,"Velocity in x-direction"], xlab:[252,875,"y-coordinate of joining zone"]});
["Velocity in x-direction","at different timesteps","relative to the collision time"]
  .forEach((t,i)=>txt(408,[479,499,519][i],t,true));
txt(408,559,"Velocity in x-direction:");
[[sC4,"collision time - 4 Δt"],[sC1,"collision time - Δt"],[sC0,"collision time"],[sCp,"collision time + Δt"]]
  .forEach(([s,t],i)=>{const yy=[574,594,615,635][i]; legendItem(407,441,yy,s); txt(447,yy+5,t);});
swatch(413,670,32,17); txt(457,678,"Welded domain"); txt(457,697,"of specimen");
txt(414,785,"Energy 7 kJ",true);

// --- panel d
const sD = {data:vx9Data, lcolor:MAROON_L, mcolor:MAROON, marker:"sq", msize:18, lw:1.3, skipZero:true};
drawPanel({left:722,right:1021,top:461,bottom:829,yDomain:[-600,0],yTicks:vx9Ticks,ypad:13,
  yFormat:d=>d===-100?"m/s":String(d), welded:[[-5,-4.35],[-1.84,3]], series:[sD],
  ylab:[658,653,"velocity in x-direction"], xlab:[871,873,"x-coordinate of joining zone"]});
["Velocity of inner side of tube","in x-direction at collision","time - 4Δt"]
  .forEach((t,i)=>txt(1035,[538,559,579][i],t,true));
legendItem(1035,1073,594,sD);
swatch(1035,634,18,17); txt(1057,643,"Welded domain"); txt(1057,664,"of specimen");
txt(1037,776,"Energy 9 kJ",true);

// --- panels e,f
const defFmt = d => d.toFixed(2).replace(".",",");
function defSeries(tc,bc,td,bd,tEnd,bEnd){
  return [
    {data:bc, lcolor:PALE_L, mcolor:PALE, marker:"tri", msize:24, markerMaxX:bEnd},
    {data:bd, lcolor:STEEL_L, mcolor:STEEL, marker:"tri", msize:24},
    {data:tc, lcolor:RED_L, mcolor:RED, marker:"sq", msize:18, markerMaxX:tEnd},
    {data:td, lcolor:MAROON_L, mcolor:MAROON, marker:"sq", msize:18}
  ];
}
function defLegend(x0,tx,rows,s){
  txt(x0,rows[0],"collision time:");
  legendItem(x0,tx-5,rows[1]-5,s[2]); txt(tx,rows[1],"deformation tube");
  legendItem(x0,tx-5,rows[2]-5,s[0]); txt(tx,rows[2],"deformation bolt");
  txt(x0,rows[3],"collision time + Δt:");
  legendItem(x0,tx-5,rows[4]-5,s[3]); txt(tx,rows[4],"deformation tube");
  legendItem(x0,tx-5,rows[5]-5,s[1]); txt(tx,rows[5],"deformation bolt");
}
const sE = defSeries(e7TubeCT,e7BoltCT,e7TubeDt,e7BoltDt,1.51,1.92);
drawPanel({left:107,right:395,top:908,bottom:1280,yDomain:[-0.05,0.35],yTicks:defTicks,ypad:8,
  yFormat:defFmt, welded:[[-0.38,3]], series:sE,
  ylab:[41,1107,"deformation ε in x-direction"], xlab:[250,1323,"y-coordinate of joining zone"]});
txt(403,928,"plastic deformation ε",true); txt(403,949,"in x-direction",true);
defLegend(403,441,[987,1006,1026,1045,1065,1084],sE);
swatch(408,1128,24,18); txt(451,1124,"Welded domain"); txt(451,1144,"of specimen");
txt(406,1228,"Energy 7 kJ",true);

const sF = defSeries(e9TubeCT,e9BoltCT,e9TubeDt,e9BoltDt,1.48,1.61);
drawPanel({left:719,right:1019,top:909,bottom:1280,yDomain:[-0.05,0.35],yTicks:defTicks,ypad:14,
  yFormat:defFmt, welded:[[-5,-4.33],[-1.85,3]], series:sF,
  ylab:[652,1107,"deformation ε in x-direction"], xlab:[868,1323,"x-coordinate of joining zone"]});
txt(1031,941,"plastic deformation ε",true); txt(1031,961,"in x-direction",true);
defLegend(1031,1071,[1000,1019,1038,1058,1077,1097],sF);
swatch(1040,1152,26,18); txt(1080,1155,"Welded domain"); txt(1080,1174,"of specimen");
txt(1031,1232,"Energy 9 kJ",true);

// --- panel g
const sG = [
  {data:wTubeCT, lcolor:GPALE_L, mcolor:GPALE, marker:"sq", msize:18, markerMaxX:1.46},
  {data:wBoltCT, lcolor:GPALE_L, mcolor:GPALE, marker:"tri", msize:24, markerMaxX:1.91},
  {data:wTubeDt, lcolor:MAROON_L, mcolor:MAROON, marker:"sq", msize:18},
  {data:wBoltDt, lcolor:MAROON_L, mcolor:MAROON, marker:"tri", msize:24}
];
const workFmt = d => d===0 ? "0,0" : d===12 ? "J/m³" : "";
drawPanel({left:107,right:396,top:1344,bottom:1717,yDomain:[0,15],yTicks:workTicks,ypad:13,
  yFormat:workFmt, welded:[[-0.38,3]], series:sG,
  yPost:function(d){
    if (d===0 || d===12) return;
    const t = d3.select(this);
    const mant = d>=10 ? (d/10).toFixed(1).replace(".",",") : d.toFixed(1).replace(".",",");
    const exp = d>=10 ? "8" : "7";
    t.text(null);
    t.append("tspan").text(mant+"x10");
    t.append("tspan").attr("dy",-7).attr("font-size",11).text(exp);
  },
  ylab:[18,1542,"work per volume"], xlab:[250,1760,"y-coordinate of joining zone"]});
txt(403,1365,"cumulated plastic work per",true); txt(403,1385,"volume (in ANSYS: PLWK)",true);
txt(403,1424,"collision time:");
legendItem(403,436,1439,sG[0]); txt(441,1444,"PLWK tube");
legendItem(403,436,1458,sG[1]); txt(441,1463,"PLWK bolt");
txt(403,1482,"collision time + Δt:");
legendItem(403,436,1497,sG[2]); txt(441,1502,"PLWK tube");
legendItem(403,436,1517,sG[3]); txt(441,1522,"PLWK bolt");
swatch(407,1565,32,17); txt(451,1560,"Welded domain"); txt(451,1579,"of specimen");
txt(414,1651,"Energy 7 kJ",true);

// --- caption
const LS = 1.15;
svg.append("text").attr("x",642).attr("y",1380).attr("font-size",24).attr("font-weight","bold")
  .attr("font-style","italic").attr("fill","#111").attr("letter-spacing",LS).text("Figure 6:");
const capBase = [1446,1479,1513,1546,1581,1614,1648];
captionItems.forEach(([lab,segs],i)=>{
  svg.append("text").attr("x",642).attr("y",capBase[i]).attr("font-size",24).attr("fill","#111")
    .attr("letter-spacing",LS).text(lab);
  const t = svg.append("text").attr("x",736).attr("y",capBase[i]).attr("font-size",24).attr("fill","#111")
    .attr("letter-spacing",LS);
  let off = 0;
  segs.forEach(([s,f])=>{
    f = f||"";
    const sp = t.append("tspan").text(s);
    const isSub = f.includes("s");
    const target = isSub ? 5 : 0;
    if (target!==off){ sp.attr("dy",target-off); off = target; }
    if (f.includes("i")) sp.attr("font-style","italic");
    if (isSub) sp.attr("font-size",16);
  });
});
const matBase = [1716,1749,1783];
materialRows.forEach(([a,b,c],i)=>{
  const t = svg.append("text").attr("x",642).attr("y",matBase[i]).attr("font-size",24).attr("fill","#111")
    .attr("letter-spacing",LS).text(a);
  if (c) t.append("tspan").attr("font-style","italic").text(c);
  svg.append("text").attr("x",825).attr("y",matBase[i]).attr("font-size",24).attr("fill","#111")
    .attr("letter-spacing",LS).text(b);
});
</script>
</body></html>
